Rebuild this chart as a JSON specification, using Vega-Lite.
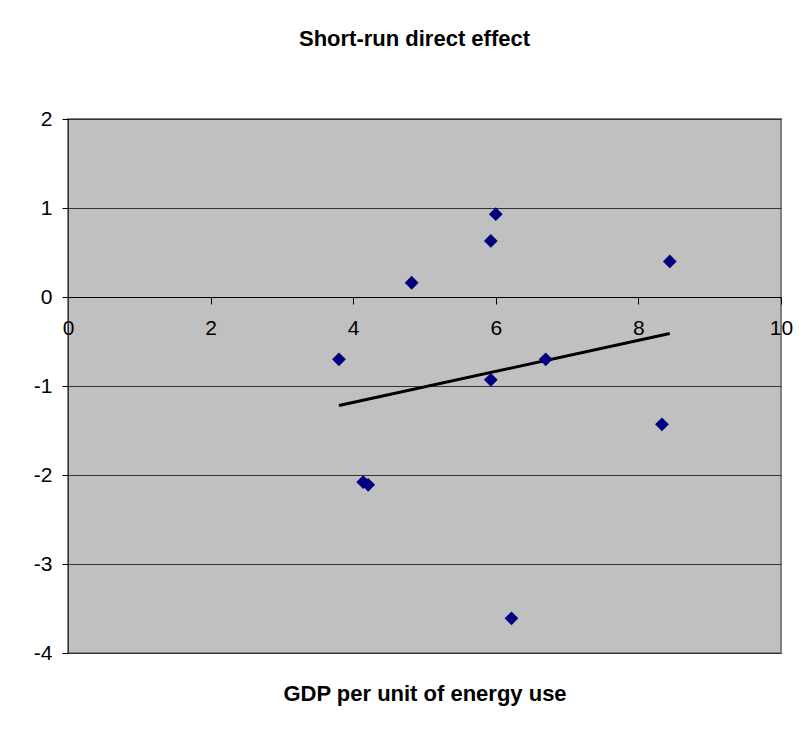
{
  "$schema": "https://vega.github.io/schema/vega-lite/v6.json",
  "width": 713,
  "height": 534,
  "autosize": {"type": "none"},
  "padding": {"left": 68, "top": 119, "right": 22, "bottom": 80},
  "background": "white",
  "title": {
    "text": "Short-run direct effect",
    "font": "Liberation Sans",
    "fontSize": 22,
    "fontWeight": "bold",
    "color": "black",
    "anchor": "middle",
    "frame": "group",
    "dx": -10,
    "baseline": "bottom",
    "offset": 35
  },
  "config": {
    "view": {"fill": "#C0C0C0", "stroke": "#808080", "strokeWidth": 2},
    "axis": {
      "labelFont": "Liberation Sans",
      "labelFontSize": 21,
      "labelColor": "black",
      "titleFont": "Liberation Sans",
      "titleFontSize": 22,
      "titleFontWeight": "bold",
      "titleColor": "black",
      "tickColor": "black",
      "domainColor": "#333333"
    }
  },
  "datasets": {
    "points": [
      {"gdp": 3.80, "effect": -0.70},
      {"gdp": 4.14, "effect": -2.08},
      {"gdp": 4.21, "effect": -2.11},
      {"gdp": 4.82, "effect": 0.16},
      {"gdp": 5.93, "effect": 0.63},
      {"gdp": 6.00, "effect": 0.93},
      {"gdp": 5.93, "effect": -0.93},
      {"gdp": 6.22, "effect": -3.61},
      {"gdp": 6.70, "effect": -0.70},
      {"gdp": 8.33, "effect": -1.43},
      {"gdp": 8.44, "effect": 0.40}
    ],
    "trend": [
      {"gdp": 3.80, "effect": -1.22},
      {"gdp": 8.44, "effect": -0.41}
    ]
  },
  "layer": [
    {
      "data": {"name": "trend"},
      "mark": {"type": "line", "color": "black", "strokeWidth": 3},
      "encoding": {
        "x": {
          "field": "gdp",
          "type": "quantitative",
          "scale": {"domain": [0, 10], "nice": false, "zero": false},
          "axis": {
            "orient": "bottom",
            "offset": -356,
            "values": [0, 2, 4, 6, 8, 10],
            "labelExpr": "'' + datum.value",
            "grid": false,
            "tickSize": 7,
            "labelPadding": 13,
            "domainColor": "black",
            "labelFlush": false,
            "labelOverlap": false,
            "title": "GDP per unit of energy use",
            "titleY": 396,
            "titleBaseline": "middle"
          }
        },
        "y": {
          "field": "effect",
          "type": "quantitative",
          "scale": {"domain": [-4, 2], "nice": false, "zero": false},
          "axis": {
            "values": [-4, -3, -2, -1, 0, 1, 2],
            "labelExpr": "'' + datum.value",
            "grid": true,
            "gridColor": "#333333",
            "gridOpacity": 1,
            "gridWidth": 1,
            "tickSize": 6,
            "labelPadding": 10,
            "labelFlush": false,
            "labelOverlap": false,
            "title": null
          }
        }
      }
    },
    {
      "data": {"name": "points"},
      "mark": {"type": "point", "shape": "diamond", "filled": true, "color": "#000080", "opacity": 1, "size": 190},
      "encoding": {
        "x": {"field": "gdp", "type": "quantitative"},
        "y": {"field": "effect", "type": "quantitative"}
      }
    }
  ]
}
